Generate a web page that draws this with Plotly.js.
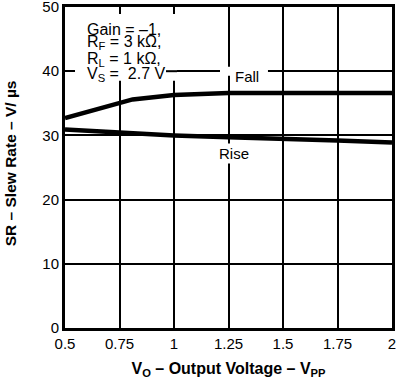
<!DOCTYPE html>
<html>
<head>
<meta charset="utf-8">
<script src="https://cdn.plot.ly/plotly-3.0.1.min.js"></script>
<style>html,body{margin:0;padding:0;background:#fff;}#chart{width:400px;height:384px;}</style>
</head>
<body>
<div id="chart"></div>
<script>
const fallX = [0.5, 0.75, 0.81, 1.0, 1.25, 1.5, 1.75, 2.0];
const fallY = [32.7, 34.9, 35.6, 36.3, 36.6, 36.6, 36.6, 36.6];
const riseX = [0.5, 0.75, 1.0, 1.25, 1.5, 1.75, 2.0];
const riseY = [30.9, 30.4, 30.0, 29.7, 29.5, 29.2, 28.9];
const xTicks = [0.5, 0.75, 1, 1.25, 1.5, 1.75, 2];
const xTickText = ['0.5', '0.75', '1', '1.25', '1.5', '1.75', '2'];
const yTicks = [0, 10, 20, 30, 40, 50];
const conditionLines = ['Gain = –1,', 'R<sub>F</sub> = 3 kΩ,', 'R<sub>L</sub> = 1 kΩ,', 'V<sub>S</sub> =  2.7 V'];
const xTitle = '<b>V<sub>O</sub> – Output Voltage – V<sub>PP</sub></b>';
const yTitle = '<b>SR – Slew Rate – V/ µs</b>';

const FONT = 'Liberation Sans, Arial, Helvetica, sans-serif';
const lineStyle = {color: '#000', width: 4.5};

const data = [
  {x: fallX, y: fallY, mode: 'lines', line: lineStyle, name: 'Fall', hoverinfo: 'none'},
  {x: riseX, y: riseY, mode: 'lines', line: lineStyle, name: 'Rise', hoverinfo: 'none'}
];

const condTops = [0.958, 0.921, 0.869, 0.8225];
const annotations = conditionLines.map((t, i) => ({
  xref: 'paper', yref: 'paper', x: 0.064, y: condTops[i], xanchor: 'left', yanchor: 'top',
  align: 'left', showarrow: false, borderpad: 0, text: t,
  font: {family: FONT, size: 16, color: '#000'}
}));
annotations.push(
  {xref: 'x', yref: 'y', x: 1.3335, y: 39.2, text: 'Fall', showarrow: false,
   font: {family: FONT, size: 15, color: '#000'}},
  {xref: 'x', yref: 'y', x: 1.275, y: 27.2, text: 'Rise', showarrow: false,
   bgcolor: '#fff', borderpad: 1, font: {family: FONT, size: 15, color: '#000'}},
  {xref: 'paper', yref: 'paper', x: -0.1667, y: 0.5148, xanchor: 'center', yanchor: 'middle',
   textangle: -90, text: yTitle, showarrow: false, font: {family: FONT, size: 15.5, color: '#000'}}
);

const shapes = [
  {type: 'rect', xref: 'x', yref: 'y', x0: 0.5459, x1: 1.0138, y0: 38.53, y1: 48.9,
   fillcolor: '#fff', line: {width: 0}, layer: 'above'},
  {type: 'line', xref: 'x', yref: 'y', x0: 0.9633, x1: 1.0138, y0: 40, y1: 40,
   line: {color: '#000', width: 2}, layer: 'above'},
  {type: 'rect', xref: 'x', yref: 'y', x0: 1.211, x1: 1.431, y0: 39.3, y1: 40.7,
   fillcolor: '#fff', line: {width: 0}, layer: 'above'}
];

const layout = {
  width: 400, height: 384,
  margin: {l: 65, r: 8, t: 7, b: 55.5},
  paper_bgcolor: '#fff', plot_bgcolor: '#fff',
  showlegend: false,
  font: {family: FONT, size: 15, color: '#000'},
  xaxis: {
    range: [0.5, 2], tickvals: xTicks, ticktext: xTickText,
    showgrid: true, gridcolor: '#000', gridwidth: 2,
    zeroline: false, showline: true, linecolor: '#000', linewidth: 3, mirror: true,
    ticks: '', ticklen: 0, ticklabeloverflow: 'allow',
    tickfont: {family: FONT, size: 15},
    title: {text: xTitle, font: {family: FONT, size: 16}, standoff: 12}
  },
  yaxis: {
    range: [0, 50], tickvals: yTicks,
    showgrid: true, gridcolor: '#000', gridwidth: 2,
    zeroline: false, showline: true, linecolor: '#000', linewidth: 3, mirror: true,
    ticks: '', ticklen: 0, ticklabeloverflow: 'allow',
    tickfont: {family: FONT, size: 15}
  },
  shapes: shapes,
  annotations: annotations
};

Plotly.newPlot('chart', data, layout, {staticPlot: true, displayModeBar: false});
</script>
</body>
</html>
